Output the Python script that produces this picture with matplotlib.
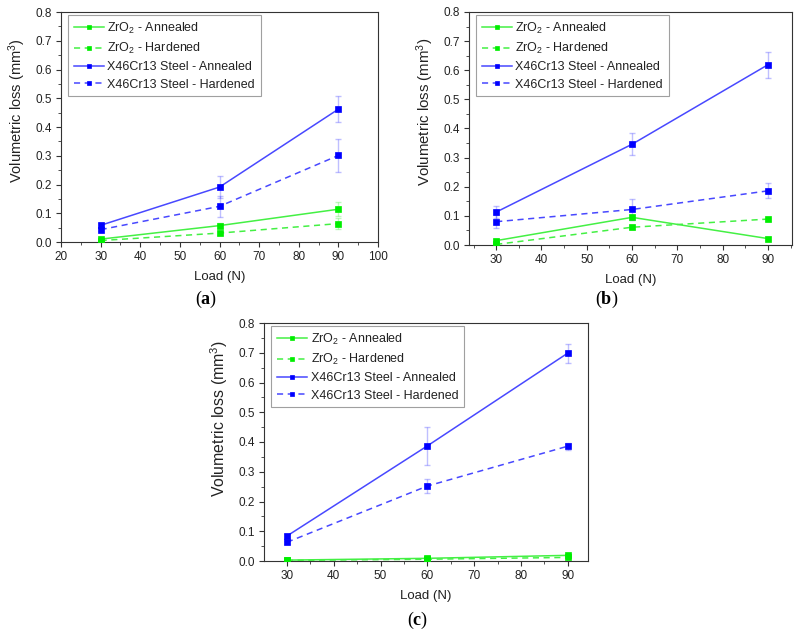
import matplotlib
matplotlib.use("Agg")
import matplotlib.pyplot as plt
from matplotlib.ticker import MultipleLocator, AutoMinorLocator

plt.rcParams['font.family'] = ['Liberation Sans', 'DejaVu Sans']
plt.rcParams['mathtext.fontset'] = 'custom'
plt.rcParams['mathtext.rm'] = 'Liberation Sans'
plt.rcParams['mathtext.it'] = 'Liberation Sans:italic'
plt.rcParams['mathtext.bf'] = 'Liberation Serif:bold'

loads = [30, 60, 90]
series_labels = ['ZrO$_2$ - Annealed', 'ZrO$_2$ - Hardened',
                 'X46Cr13 Steel - Annealed', 'X46Cr13 Steel - Hardened']

# panel (a)
a_zro2_ann = [0.010, 0.057, 0.114]
a_zro2_hard = [0.005, 0.031, 0.064]
a_steel_ann = [0.058, 0.191, 0.462]
a_steel_hard = [0.043, 0.124, 0.301]
a_zro2_ann_err = [0.004, 0.008, 0.025]
a_zro2_hard_err = [0.003, 0.006, 0.020]
a_steel_ann_err = [0.008, 0.037, 0.046]
a_steel_hard_err = [0.006, 0.036, 0.056]

# panel (b)
b_zro2_ann = [0.015, 0.095, 0.022]
b_zro2_hard = [0.002, 0.061, 0.089]
b_steel_ann = [0.113, 0.346, 0.619]
b_steel_hard = [0.080, 0.122, 0.186]
b_zro2_ann_err = [0.004, 0.008, 0.004]
b_zro2_hard_err = [0.002, 0.006, 0.005]
b_steel_ann_err = [0.021, 0.037, 0.045]
b_steel_hard_err = [0.023, 0.037, 0.026]

# panel (c)
c_zro2_ann = [0.003, 0.009, 0.019]
c_zro2_hard = [0.002, 0.006, 0.012]
c_steel_ann = [0.084, 0.387, 0.699]
c_steel_hard = [0.063, 0.252, 0.386]
c_zro2_ann_err = [0.001, 0.002, 0.003]
c_zro2_hard_err = [0.001, 0.001, 0.002]
c_steel_ann_err = [0.006, 0.065, 0.032]
c_steel_hard_err = [0.005, 0.025, 0.012]

GREEN = '#00ee00'
BLUE = '#0000ff'
LGREEN = '#44f044'
LBLUE = '#4848ff'

panels = [
    dict(rect=[61/798, 1-242/637, 317/798, 230/637], xlim=(20, 100), xticks=range(20, 101, 10),
         data=[(a_zro2_ann, a_zro2_ann_err), (a_zro2_hard, a_zro2_hard_err),
               (a_steel_ann, a_steel_ann_err), (a_steel_hard, a_steel_hard_err)],
         tag='a', tagpos=(206/798, 1-299/637), ylsize=10.5, ylc=(-0.105, 0.57)),
    dict(rect=[469/798, 1-245/637, 323/798, 233/637], xlim=(24.0, 95.3), xticks=range(30, 91, 10),
         data=[(b_zro2_ann, b_zro2_ann_err), (b_zro2_hard, b_zro2_hard_err),
               (b_steel_ann, b_steel_ann_err), (b_steel_hard, b_steel_hard_err)],
         tag='b', tagpos=(607/798, 1-299/637), ylsize=10.8, ylc=(-0.102, 0.571)),
    dict(rect=[264/798, 1-561/637, 324/798, 238/637], xlim=(25.1, 94.3), xticks=range(30, 91, 10),
         data=[(c_zro2_ann, c_zro2_ann_err), (c_zro2_hard, c_zro2_hard_err),
               (c_steel_ann, c_steel_ann_err), (c_steel_hard, c_steel_hard_err)],
         tag='c', tagpos=(418/798, 1-620/637), ylsize=11.4, ylc=(-0.105, 0.60)),
]

styles = [(GREEN, LGREEN, '-'), (GREEN, LGREEN, (0, (4, 3))),
          (BLUE, LBLUE, '-'), (BLUE, LBLUE, (0, (4, 3)))]

fig = plt.figure(figsize=(7.98, 6.37), dpi=100)
TXT = '#222222'
for p in panels:
    ax = fig.add_axes(p['rect'])
    handles = []
    for (vals, errs), (mc, lc, ls), lab in zip(p['data'], styles, series_labels):
        ax.errorbar(loads, vals, yerr=errs, fmt='none', ecolor=lc, alpha=0.35,
                    elinewidth=1.0, capsize=2.5, capthick=1.0, zorder=2)
        h, = ax.plot(loads, vals, color=lc, linestyle=ls, linewidth=1.1,
                     marker='s', markersize=4.6, markerfacecolor=mc,
                     markeredgecolor=mc, markeredgewidth=0.5, label=lab, zorder=3)
        handles.append(h)
    ax.set_xlim(*p['xlim'])
    ax.set_ylim(0, 0.8)
    ax.set_xticks(list(p['xticks']))
    ax.yaxis.set_major_locator(MultipleLocator(0.1))
    ax.yaxis.set_major_formatter(matplotlib.ticker.FormatStrFormatter('%.1f'))
    ax.xaxis.set_minor_locator(AutoMinorLocator(2))
    ax.yaxis.set_minor_locator(AutoMinorLocator(2))
    ax.tick_params(which='major', direction='out', length=3.5, width=0.8,
                   labelsize=8.5, colors='#333333', labelcolor=TXT, pad=3)
    ax.tick_params(which='minor', direction='out', length=2, width=0.6, colors='#333333')
    for s in ax.spines.values():
        s.set_linewidth(0.8)
        s.set_color('#333333')
    ax.set_xlabel('Load (N)', fontsize=9.5, color=TXT, labelpad=6)
    ax.set_ylabel('Volumetric loss (mm$^3$)', fontsize=p['ylsize'], color=TXT)
    ax.yaxis.set_label_coords(*p['ylc'])
    leg = ax.legend(handles=handles, loc='upper left', bbox_to_anchor=(0.022, 0.987),
                    fontsize=9, frameon=True, fancybox=False, handlelength=2.4,
                    handletextpad=0.3, borderpad=0.45, labelspacing=0.42,
                    markerscale=0.75, borderaxespad=0.0)
    leg.get_frame().set_edgecolor('#888888')
    leg.get_frame().set_linewidth(0.8)
    for t in leg.get_texts():
        t.set_color(TXT)
    fig.text(p['tagpos'][0], p['tagpos'][1], '($\\mathbf{%s}$)' % p['tag'],
             family='Liberation Serif', fontsize=13, ha='center', va='center', color='black')

fig.savefig('out.png', dpi=100, facecolor='white')
